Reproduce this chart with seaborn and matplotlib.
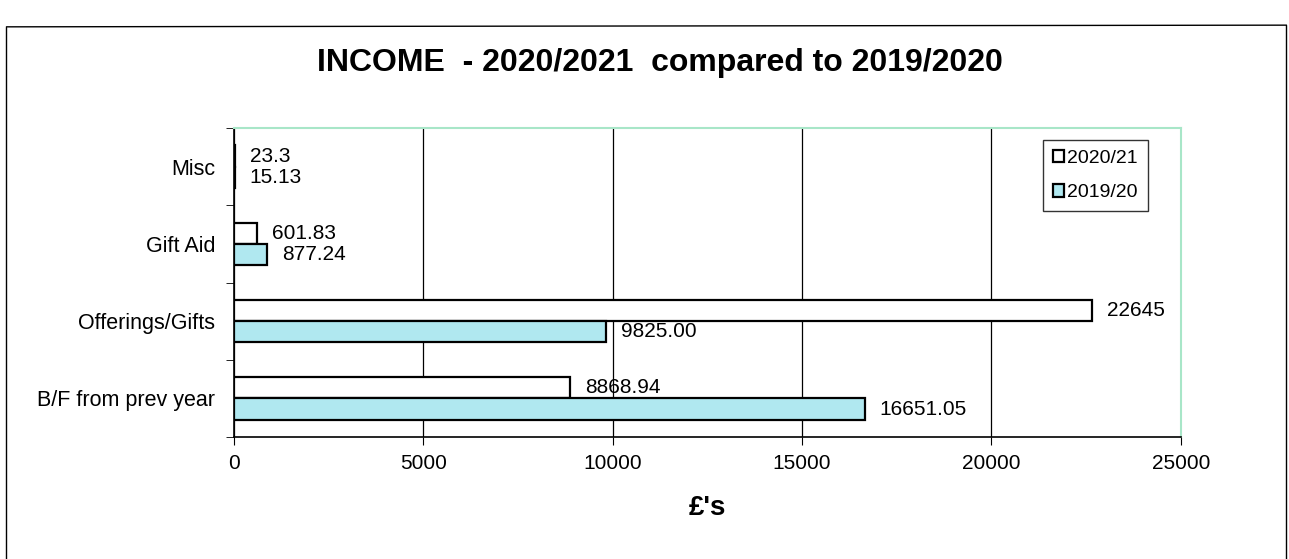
import pandas as pd
import matplotlib.pyplot as plt
import seaborn as sns
import numpy as np
from matplotlib.lines import Line2D

# data
categories = ["Misc", "Gift Aid", "Offerings/Gifts", "B/F from prev year"]
years = ["2020/21", "2019/20"]
income_2021 = [23.3, 601.83, 22645, 8868.94]
income_2020 = [15.13, 877.24, 9825.00, 16651.05]
labels_2021 = ["23.3", "601.83", "22645", "8868.94"]
labels_2020 = ["15.13", "877.24", "9825.00", "16651.05"]

df = pd.DataFrame({
    "category": categories * 2,
    "year": [years[0]] * 4 + [years[1]] * 4,
    "amount": income_2021 + income_2020,
})

sns.set_style("white")
plt.rcParams["font.family"] = ["Liberation Sans", "DejaVu Sans"]
plt.rcParams["text.color"] = "black"
plt.rcParams["xtick.color"] = "black"
plt.rcParams["ytick.color"] = "black"
plt.rcParams["axes.labelcolor"] = "black"

fig = plt.figure(figsize=(12.89, 5.59), dpi=100)
ax = fig.add_axes([0.1815, 0.218, 0.7345, 0.553])

palette = {"2020/21": "white", "2019/20": "#b0e8f0"}
sns.barplot(data=df, y="category", x="amount", hue="year", order=categories,
            hue_order=years, palette=palette, orient="h", width=0.55,
            edgecolor="black", linewidth=1.6, saturation=1, ax=ax, legend=True)

for cont, labs in zip(ax.containers, [labels_2021, labels_2020]):
    ax.bar_label(cont, labels=labs, padding=11, fontsize=15)

ax.set_xlim(0, 25000)
ax.set_ylim(3.5, -0.5)
ax.set_xticks(np.arange(0, 25001, 5000))
ax.tick_params(axis="x", labelsize=15, length=6, direction="out", bottom=True, pad=6)
ax.set_yticks(range(len(categories)))
ax.set_yticklabels(categories, fontsize=15.5)
ax.tick_params(axis="y", length=0, pad=13.5)
ax.set_yticks(np.arange(-0.5, 4, 1), minor=True)
ax.tick_params(axis="y", which="minor", length=6, direction="out", left=True)
ax.xaxis.grid(True, color="black", linewidth=0.9)
ax.yaxis.grid(False)
ax.set_axisbelow(True)
ax.set_ylabel("")
ax.set_xlabel("£'s", fontsize=20, fontweight="bold", labelpad=16)

for s in ["top", "right"]:
    ax.spines[s].set_color("#a8e6c8")
    ax.spines[s].set_linewidth(1.5)
for s in ["left", "bottom"]:
    ax.spines[s].set_color("black")
    ax.spines[s].set_linewidth(1.2)

leg = ax.legend(loc="upper right", bbox_to_anchor=(0.965, 0.961), fontsize=14,
                frameon=True, fancybox=False, edgecolor="black",
                handlelength=0.6, handleheight=0.6, handletextpad=0.15,
                labelspacing=0.9, borderpad=0.5, borderaxespad=0)
leg.get_frame().set_linewidth(1.0)

fig.text(0.512, 0.888, "INCOME  - 2020/2021  compared to 2019/2020",
         ha="center", va="center", fontsize=23, fontweight="bold")

# outer chart frame
fig.add_artist(Line2D([0.005, 0.005], [0.0, 0.952], color="black", linewidth=1.0))
fig.add_artist(Line2D([0.005, 0.998], [0.952, 0.955], color="black", linewidth=1.0))
fig.add_artist(Line2D([0.998, 0.998], [0.0, 0.955], color="black", linewidth=1.0))

fig.savefig("out.png", dpi=100)
